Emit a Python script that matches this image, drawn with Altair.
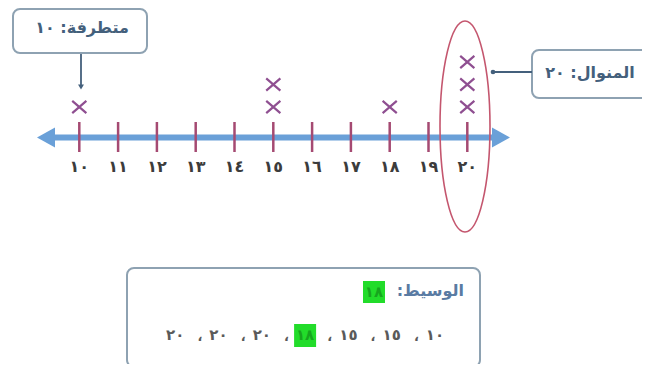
import altair as alt
import pandas as pd

# ---------------- data ----------------
values = [10, 15, 15, 18, 20, 20, 20]
tick_values = [10, 11, 12, 13, 14, 15, 16, 17, 18, 19, 20]
tick_labels = ["١٠", "١١", "١٢", "١٣", "١٤", "١٥", "١٦", "١٧", "١٨", "١٩", "٢٠"]
outlier_text = "متطرفة: ١٠"
mode_text = "المنوال: ٢٠"
median_word = "الوسيط:"
comma = "،"

label_of = dict(zip(tick_values, tick_labels))

# ---------------- layout ----------------
W, H = 634, 356
X10, XSTEP = 79.3, 38.8          # image px of value 10, px per unit
YBASE, YSTEP = 129.5, 22.5       # image px of level 0, px per stacked mark


def dx(px):
    return 10 + (px - X10) / XSTEP


def dy(py):
    return (YBASE - py) / YSTEP


xs = alt.Scale(domain=[dx(8), dx(8 + W)], nice=False, zero=False)
ys = alt.Scale(domain=[dy(8 + H), dy(8)], nice=False, zero=False)


def ex(f="x"):
    return alt.X(f"{f}:Q", scale=xs, axis=None)


def ey(f="y"):
    return alt.Y(f"{f}:Q", scale=ys, axis=None)


FONT = "DejaVu Sans"
BLUE = "#6aa0d8"
TICK = "#a54a72"
XCOL = "#8f4f91"
BOXC = "#8ea2b2"
DARK = "#44607c"
GREEN = "#22dc2a"

# number line
axis_line = alt.Chart(pd.DataFrame({"x": [dx(44)], "x2": [dx(492)], "y": [dy(137.5)]})).mark_rule(
    color=BLUE, strokeWidth=6).encode(x=ex(), x2="x2:Q", y=ey())

arrows = alt.Chart(pd.DataFrame({
    "x": [dx(47), dx(500)], "y": [dy(137.5)] * 2,
    "s": ["M-1,0L0.8,-1L0.8,1Z", "M1,0L-0.8,-1L-0.8,1Z"]})).mark_point(
    filled=True, color=BLUE, size=400, opacity=1).encode(
    x=ex(), y=ey(), shape=alt.Shape("s:N", scale=None))

ticks_df = pd.DataFrame({"v": tick_values, "lab": tick_labels})
ticks = alt.Chart(ticks_df).mark_rule(color=TICK, strokeWidth=2.5).encode(
    x=ex("v"), y=alt.Y("a:Q", scale=ys, axis=None), y2="b:Q").transform_calculate(
    a=str(dy(122)), b=str(dy(152)))

tick_text = alt.Chart(ticks_df).mark_text(
    font=FONT, fontSize=16, fontWeight="bold", color="#3c3c3c", baseline="middle").encode(
    x=ex("v"), y=alt.Y("a:Q", scale=ys, axis=None), text="lab:N").transform_calculate(
    a=str(dy(167)))

# X marks stacked by count
xmarks = alt.Chart(pd.DataFrame({"v": values})).transform_window(
    level="row_number()", groupby=["v"]).mark_point(
    shape="M-1,-0.87L1,0.87M-1,0.87L1,-0.87", filled=False, size=200,
    strokeWidth=2.2, color=XCOL, opacity=1).encode(x=ex("v"), y=ey("level"))

# ellipse around mode
a = 25 / 105.5
k = 0.5523
ell_path = (f"M0,-1C{k*a:.4f},-1 {a:.4f},{-k:.4f} {a:.4f},0"
            f"C{a:.4f},{k:.4f} {k*a:.4f},1 0,1"
            f"C{-k*a:.4f},1 {-a:.4f},{k:.4f} {-a:.4f},0"
            f"C{-a:.4f},{-k:.4f} {-k*a:.4f},-1 0,-1Z")
ellipse = alt.Chart(pd.DataFrame({"x": [dx(465)], "y": [dy(126.5)]})).mark_point(
    shape=ell_path, filled=False, size=211 ** 2, strokeWidth=1.6, color="#c4566e",
    opacity=1).encode(x=ex(), y=ey())

# callout boxes
boxes = alt.Chart(pd.DataFrame({
    "x": [dx(13), dx(532), dx(127)], "x2": [dx(147), dx(700), dx(480)],
    "y": [dy(9), dy(50), dy(268)], "y2": [dy(53), dy(98), dy(367)]})).mark_rect(
    fill="white", stroke=BOXC, strokeWidth=2, cornerRadius=7).encode(
    x=ex(), x2="x2:Q", y=ey(), y2="y2:Q")

box_text = alt.Chart(pd.DataFrame({
    "x": [dx(82), dx(590)], "y": [dy(28), dy(73)], "t": [outlier_text, mode_text]})).mark_text(
    font=FONT, fontSize=16, fontWeight="bold", color=DARK, baseline="middle").encode(
    x=ex(), y=ey(), text="t:N")

# connectors
conn = alt.Chart(pd.DataFrame({
    "x": [dx(81), dx(493)], "x2": [dx(81), dx(532)],
    "y": [dy(54), dy(72)], "y2": [dy(85), dy(72)]})).mark_rule(
    color=DARK, strokeWidth=1.8).encode(x=ex(), x2="x2:Q", y=ey(), y2="y2:Q")

conn_heads = alt.Chart(pd.DataFrame({
    "x": [dx(81), dx(493)], "y": [dy(87), dy(72)],
    "s": ["triangle-down", "circle"], "sz": [35, 22]})).mark_point(
    filled=True, color=DARK, opacity=1).encode(
    x=ex(), y=ey(), shape=alt.Shape("s:N", scale=None), size=alt.Size("sz:Q", scale=None))

# median box contents
svals = sorted(values)
mid = len(svals) // 2
STEP = 43.3
tok_x = [435 - i * STEP for i in range(len(svals))]
nums = pd.DataFrame({"x": [dx(p) for p in tok_x], "y": [dy(335)] * len(svals),
                     "t": [label_of[v] for v in svals],
                     "hl": [i == mid for i in range(len(svals))]})
commas = pd.DataFrame({"x": [dx((tok_x[i] + tok_x[i + 1]) / 2 + 3) for i in range(len(svals) - 1)],
                       "y": [dy(337)] * (len(svals) - 1), "t": [comma] * (len(svals) - 1)})

green = alt.Chart(pd.DataFrame({
    "x": [dx(363), dx(tok_x[mid] - 11)], "x2": [dx(385), dx(tok_x[mid] + 11)],
    "y": [dy(281), dy(324)], "y2": [dy(303), dy(347)]})).mark_rect(
    fill=GREEN).encode(x=ex(), x2="x2:Q", y=ey(), y2="y2:Q")

num_text = alt.Chart(nums).mark_text(font=FONT, fontSize=15, fontWeight="bold", baseline="middle").encode(
    x=ex(), y=ey(), text="t:N",
    color=alt.condition("datum.hl", alt.value("#17a51e"), alt.value("#5a5a5a")))
comma_text = alt.Chart(commas).mark_text(font=FONT, fontSize=13, fontWeight="bold", baseline="middle",
                                         color="#5a5a5a").encode(x=ex(), y=ey(), text="t:N")

med_word = alt.Chart(pd.DataFrame({"x": [dx(464)], "y": [dy(291)], "t": [median_word + "\u200f"]})).mark_text(
    font=FONT, fontSize=16, fontWeight="bold", color="#5a7ba3", align="right", baseline="middle").encode(
    x=ex(), y=ey(), text="t:N")
med_val = alt.Chart(pd.DataFrame({"x": [dx(374)], "y": [dy(292)], "t": [label_of[svals[mid]]]})).mark_text(
    font=FONT, fontSize=15, fontWeight="bold", color="#17a51e", baseline="middle").encode(
    x=ex(), y=ey(), text="t:N")

chart = alt.layer(
    boxes, axis_line, arrows, ticks, tick_text, ellipse, xmarks, box_text,
    conn, conn_heads, green, num_text, comma_text, med_word, med_val
).properties(width=W, height=H, autosize="none", padding=0).configure_view(stroke=None)

chart.save("out.html", embed_options={"renderer": "svg", "actions": False})
